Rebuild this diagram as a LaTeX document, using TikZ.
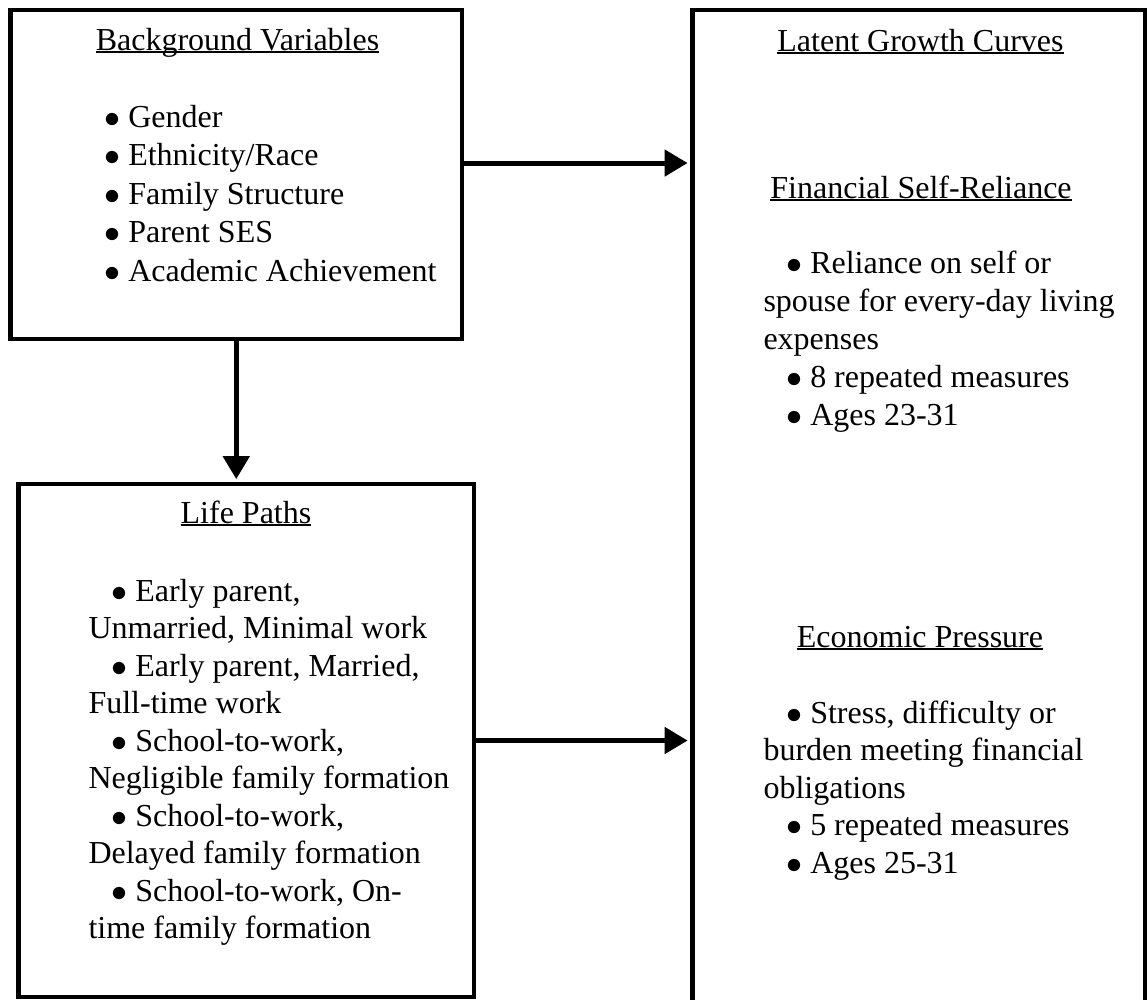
\documentclass[tikz,border=0pt]{standalone}
\usepackage{fontspec}
\setmainfont{Liberation Serif}
\usetikzlibrary{arrows.meta,fit}

\newcommand{\ulhead}[1]{\setbox0\hbox{#1}\rlap{\rule[-1.2pt]{\wd0}{0.7pt}}#1}
\newcommand{\itembul}{$\bullet$\hspace{2.9pt}}

\tikzset{
  panel/.style={draw, line width=1.85pt, inner sep=0pt},
  flow/.style={line width=1.85pt, shorten >=0.9pt, -{Triangle[length=8.6pt,width=9.7pt]}},
  head/.style={anchor=base, inner sep=0pt, font=\fontsize{12}{14}\selectfont},
  txt/.style={anchor=base west, inner sep=0pt, font=\fontsize{12}{14}\selectfont},
}

\begin{document}
\begin{tikzpicture}[x=0.375pt,y=-0.375pt]
\useasboundingbox (0,0) rectangle (1147,1000);

%boxes
\node[panel, fit={(10.5,10) (462,339)}] (bg) {};
\node[panel, fit={(18.5,484) (474,997)}] (life) {};
\node[panel, fit={(692.5,10) (1145,1012)}] (growth) {};

%background variables
\node[head] (bgt) at (237.5,50) {\ulhead{Background Variables}};
\node[txt] (bv1) at (104,127) {\itembul Gender};
\node[txt] (bv2) at (104,165.5) {\itembul Ethnicity/Race};
\node[txt] (bv3) at (104,204) {\itembul Family Structure};
\node[txt] (bv4) at (104,242.5) {\itembul Parent SES};
\node[txt] (bv5) at (104,281) {\itembul Academic Achievement};

%life paths
\node[head] (lpt) at (246,523) {\ulhead{Life Paths}};
\node[txt] (lp1) at (111,601) {\itembul Early parent,};
\node[txt] (lp2) at (88,638.5) {Unmarried, Minimal work};
\node[txt] (lp3) at (111,676) {\itembul Early parent, Married,};
\node[txt] (lp4) at (88,713.5) {Full-time work};
\node[txt] (lp5) at (111,751) {\itembul School-to-work,};
\node[txt] (lp6) at (88,788.5) {Negligible family formation};
\node[txt] (lp7) at (111,826) {\itembul School-to-work,};
\node[txt] (lp8) at (88,863.5) {Delayed family formation};
\node[txt] (lp9) at (111,901) {\itembul School-to-work, On-};
\node[txt] (lp10) at (88,938.5) {time family formation};

%latent growth curves
\node[head] (gct) at (920.5,51) {\ulhead{Latent Growth Curves}};
\node[head] (fst) at (921,198) {\ulhead{Financial Self-Reliance}};
\node[txt] (fs1) at (786,273) {\itembul Reliance on self or};
\node[txt] (fs2) at (763,311) {spouse for every-day living};
\node[txt] (fs3) at (763,349) {expenses};
\node[txt] (fs4) at (786,387) {\itembul 8 repeated measures};
\node[txt] (fs5) at (786,425) {\itembul Ages 23-31};
\node[head] (ept) at (920,647) {\ulhead{Economic Pressure}};
\node[txt] (ep1) at (786,723) {\itembul Stress, difficulty or};
\node[txt] (ep2) at (763,760.5) {burden meeting financial};
\node[txt] (ep3) at (763,798) {obligations};
\node[txt] (ep4) at (786,835.5) {\itembul 5 repeated measures};
\node[txt] (ep5) at (786,873) {\itembul Ages 25-31};

%bg>growth
\draw[flow] ([yshift=4.3pt]bg.east) -- ([yshift=4.3pt]bg.east -| growth.west);
%bg>life
\draw[flow] (bg.south) -- (bg.south |- life.north);
%life>growth
\draw[flow] (life.east) -- (life.east -| growth.west);
\end{tikzpicture}
\end{document}
